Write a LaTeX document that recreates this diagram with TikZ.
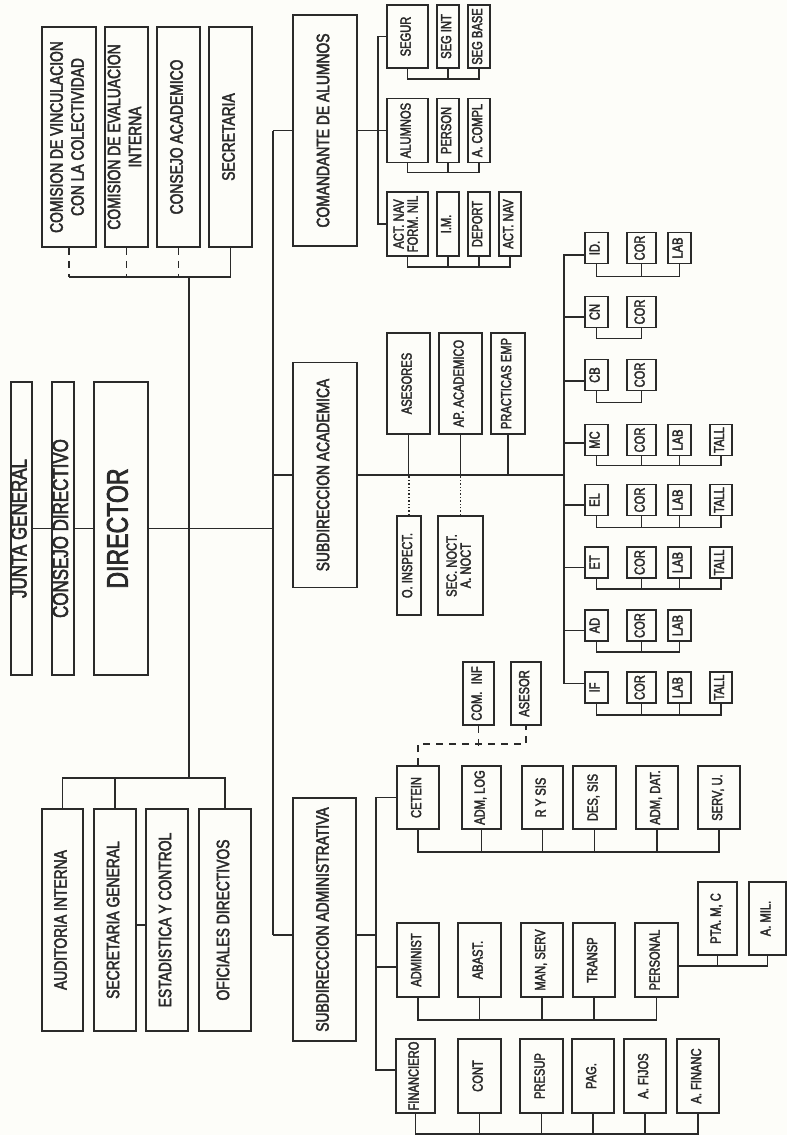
\documentclass[tikz,border=0pt]{standalone}
\usepackage{fontspec,graphicx}
\setmainfont{Liberation Sans}[FakeStretch=0.77,FakeBold=2.5]
\definecolor{ink}{HTML}{2A2A2A}
\definecolor{paper}{HTML}{FDFDF9}
\newcommand{\vt}[1]{\rotatebox{90}{\begin{tabular}{@{}c@{}}#1\end{tabular}}}
\tikzset{org/.style={draw=ink,line width=1.8pt,inner sep=0pt,text=ink,font=\fontsize{14.5}{13}\selectfont},sz/.style 2 args={minimum width=#1pt,minimum height=#2pt},fmid/.style={font=\fontsize{18}{21}\selectfont},fbig/.style={font=\fontsize{22}{18}\selectfont},fhuge/.style={font=\fontsize{30}{34}\selectfont},link/.style={draw=ink,line width=1.8pt},dlink/.style={link,dash pattern=on 7pt off 6pt},plink/.style={draw=ink,line width=1.4pt,dotted}}

\begin{document}
\begin{tikzpicture}[x=1pt,y=-1pt]
\fill[paper] (0,0) rectangle (787,1135);
\node[org,fmid,sz={54}{220}] (cvinc) at (69,137) {\vt{COMISION DE VINCULACION\\CON LA COLECTIVIDAD}};
\node[org,fmid,sz={43}{220}] (ceval) at (126.5,137) {\vt{COMISION DE EVALUACION\\INTERNA}};
\node[org,fmid,sz={43}{220}] (cacad) at (178.5,137) {\vt{CONSEJO ACADEMICO}};
\node[org,fmid,sz={43}{220}] (secr) at (230.5,137) {\vt{SECRETARIA}};
\node[org,fbig,sz={21}{293}] (junta) at (21.5,528.5) {\vt{JUNTA GENERAL}};
\node[org,fbig,sz={22}{293}] (cdir) at (63,528.5) {\vt{CONSEJO DIRECTIVO}};
\node[org,fhuge,sz={54}{293}] (dir) at (121,528.5) {\vt{DIRECTOR}};
\node[org,fmid,sz={41}{222}] (audit) at (62.5,920) {\vt{AUDITORIA INTERNA}};
\node[org,fmid,sz={42}{222}] (sgen) at (115,920) {\vt{SECRETARIA GENERAL}};
\node[org,fmid,sz={42}{222}] (estad) at (167,920) {\vt{ESTADISTICA Y CONTROL}};
\node[org,fmid,sz={52}{222}] (ofic) at (225,920) {\vt{OFICIALES DIRECTIVOS}};
\coordinate (ctop) at (189,277);\coordinate (cbot) at (189,778);
\coordinate (btop) at (273,130.5);\coordinate (bbot) at (273,935);
\draw[dlink](cvinc.south)--(cvinc.south|-ctop);\draw[dlink](ceval.south)--(ceval.south|-ctop);\draw[dlink](cacad.south)--(cacad.south|-ctop);
\draw[link](secr.south)--(secr.south|-ctop)--(cvinc.south|-ctop);
\draw[link](ctop)--(cbot);\draw[link](btop)--(bbot);
\draw[link](junta)--(cdir);\draw[link](cdir)--(dir);\draw[link](dir.east)--(dir.east-|btop);
\draw[link](audit.north)--(audit.north|-cbot)--(ofic.north|-cbot)--(ofic.north);\draw[link](sgen.north)--(sgen.north|-cbot);
\draw[link]([yshift=-5pt]sgen.east)--([yshift=-5pt]estad.west);

\node[org,fmid,sz={64}{231}] (coman) at (325,130.5) {\vt{COMANDANTE DE ALUMNOS}};
\node[org,sz={41}{63}] (segur) at (407.5,36.5) {\vt{SEGUR}};
\node[org,sz={22}{63}] (segint) at (448,36.5) {\vt{SEG INT}};
\node[org,sz={22}{63}] (segbase) at (479,36.5) {\vt{SEG BASE}};
\node[org,sz={41}{64}] (alum) at (407.5,130.5) {\vt{ALUMNOS}};
\node[org,sz={22}{64}] (person) at (448,130.5) {\vt{PERSON}};
\node[org,sz={22}{64}] (acompl) at (479,130.5) {\vt{A. COMPL}};
\node[org,sz={41}{64}] (actnav) at (407.5,224) {\vt{ACT. NAV\\FORM. NIL}};
\node[org,sz={22}{64}] (im) at (448,224) {\vt{I.M.}};
\node[org,sz={22}{64}] (deport) at (479,224) {\vt{DEPORT}};
\node[org,sz={22}{64}] (actnavb) at (510,224) {\vt{ACT. NAV}};
\coordinate (cspine) at (378,130.5);
\draw[link](btop)--(coman.west);\draw[link](coman)--(alum);\draw[link](segur.west)-|(cspine);\draw[link](actnav.west)-|(cspine);
\draw[link](segur.south)--++(0,10)-|(segbase.south);\draw[link](segint.south)--++(0,10);
\draw[link](alum.south)--++(0,9)-|(acompl.south);\draw[link](person.south)--++(0,9);
\draw[link](actnav.south)--++(0,10)-|(actnavb.south);\draw[link](im.south)--++(0,10);\draw[link](deport.south)--++(0,10);

\node[org,fmid,sz={64}{225}] (sacad) at (325,475) {\vt{SUBDIRECCION ACADEMICA}};
\node[org,sz={43}{101}] (ases) at (408.5,383.5) {\vt{ASESORES}};
\node[org,sz={43}{101}] (apac) at (460.5,383.5) {\vt{AP. ACADEMICO}};
\node[org,sz={34}{101}] (pract) at (508,383.5) {\vt{PRACTICAS EMP}};
\node[org,sz={24}{99}] (oinsp) at (409,565.5) {\vt{O. INSPECT.}};
\node[org,sz={45}{99}] (secnoct) at (460.5,565.5) {\vt{SEC. NOCT.\\A. NOCT}};
\coordinate (aspine) at (564,475);
\draw[link](sacad.west-|btop)--(sacad.west);\draw[link](sacad.east)--(aspine);
\draw[link](ases.south)--(ases.south|-aspine);\draw[link](apac.south)--(apac.south|-aspine);\draw[link](pract.south)--(pract.south|-aspine);
\draw[plink](oinsp.north)--(oinsp.north|-aspine);\draw[plink](secnoct.north)--(secnoct.north|-aspine);

\node[org,sz={23}{31}] (id) at (596.5,248) {\vt{ID.}};
\node[org,sz={29}{31}] (idcor) at (641.5,248) {\vt{COR}};
\node[org,sz={23}{31}] (idlab) at (679.5,248) {\vt{LAB}};
\node[org,sz={23}{31}] (cn) at (596.5,312) {\vt{CN}};
\node[org,sz={29}{31}] (cncor) at (641.5,312) {\vt{COR}};
\node[org,sz={23}{31}] (cb) at (596.5,375) {\vt{CB}};
\node[org,sz={29}{31}] (cbcor) at (641.5,375) {\vt{COR}};
\node[org,sz={23}{31}] (mc) at (596.5,440) {\vt{MC}};
\node[org,sz={29}{31}] (mccor) at (641.5,440) {\vt{COR}};
\node[org,sz={23}{31}] (mclab) at (679.5,440) {\vt{LAB}};
\node[org,sz={22}{31}] (mctall) at (721,440) {\vt{TALL}};
\node[org,sz={23}{31}] (el) at (596.5,500) {\vt{EL}};
\node[org,sz={29}{31}] (elcor) at (641.5,500) {\vt{COR}};
\node[org,sz={23}{31}] (ellab) at (679.5,500) {\vt{LAB}};
\node[org,sz={22}{31}] (eltall) at (721,500) {\vt{TALL}};
\node[org,sz={23}{31}] (et) at (596.5,562.5) {\vt{ET}};
\node[org,sz={29}{31}] (etcor) at (641.5,562.5) {\vt{COR}};
\node[org,sz={23}{31}] (etlab) at (679.5,562.5) {\vt{LAB}};
\node[org,sz={22}{31}] (ettall) at (721,562.5) {\vt{TALL}};
\node[org,sz={23}{31}] (ad) at (596.5,625.5) {\vt{AD}};
\node[org,sz={29}{31}] (adcor) at (641.5,625.5) {\vt{COR}};
\node[org,sz={23}{31}] (adlab) at (679.5,625.5) {\vt{LAB}};
\node[org,sz={23}{31}] (ifd) at (596.5,687.5) {\vt{IF}};
\node[org,sz={29}{31}] (ifcor) at (641.5,687.5) {\vt{COR}};
\node[org,sz={23}{31}] (iflab) at (679.5,687.5) {\vt{LAB}};
\node[org,sz={22}{31}] (iftall) at (721,687.5) {\vt{TALL}};
\draw[link]([yshift=-7pt]id.west)-|(aspine);\draw[link]([yshift=4pt]ifd.west)-|(aspine);
\draw[link]([yshift=-5pt]cn.west)--++(-21,0);\draw[link]([yshift=-6pt]cb.west)--++(-21,0);\draw[link]([yshift=-3pt]mc.west)--++(-21,0);
\draw[link]([yshift=-5pt]el.west)--++(-21,0);\draw[link]([yshift=-5pt]et.west)--++(-21,0);\draw[link]([yshift=-5pt]ad.west)--++(-21,0);
\draw[link](id.south)--++(0,12)-|(idlab.south);\draw[link](idcor.south)--++(0,12);
\draw[link](cn.south)--++(0,10)-|(cncor.south);\draw[link](cb.south)--++(0,11)-|(cbcor.south);
\draw[link](mc.south)--++(0,9)-|(mctall.south);\draw[link](mccor.south)--++(0,9);\draw[link](mclab.south)--++(0,9);
\draw[link](el.south)--++(0,11)-|(eltall.south);\draw[link](elcor.south)--++(0,11);\draw[link](ellab.south)--++(0,11);
\draw[link](et.south)--++(0,10)-|(ettall.south);\draw[link](etcor.south)--++(0,10);\draw[link](etlab.south)--++(0,10);
\draw[link](ad.south)--++(0,10)-|(adlab.south);\draw[link](adcor.south)--++(0,10);
\draw[link](ifd.south)--++(0,11)-|(iftall.south);\draw[link](ifcor.south)--++(0,11);\draw[link](iflab.south)--++(0,11);

\node[org,fmid,sz={63}{243}] (sadm) at (324.5,919.5) {\vt{SUBDIRECCION ADMINISTRATIVA}};
\node[org,sz={42}{63}] (cetein) at (418,797.5) {\vt{CETEIN}};
\node[org,sz={39}{63}] (admlog) at (481.5,797.5) {\vt{ADM, LOG}};
\node[org,sz={41}{63}] (rysis) at (542.5,797.5) {\vt{R Y SIS}};
\node[org,sz={43}{63}] (dessis) at (594.5,797.5) {\vt{DES, SIS}};
\node[org,sz={42}{63}] (admdat) at (657,797.5) {\vt{ADM, DAT.}};
\node[org,sz={42}{63}] (servu) at (719,797.5) {\vt{SERV, U.}};
\node[org,sz={31}{63}] (cominf) at (478.5,693.5) {\vt{COM.\enspace INF}};
\node[org,sz={30}{63}] (asesor) at (526,693.5) {\vt{ASESOR}};
\node[org,sz={42}{74}] (administ) at (418,960) {\vt{ADMINIST}};
\node[org,sz={43}{74}] (abast) at (479.5,960) {\vt{ABAST.}};
\node[org,sz={42}{74}] (manserv) at (542,960) {\vt{MAN, SERV}};
\node[org,sz={42}{74}] (transp) at (594,960) {\vt{TRANSP}};
\node[org,sz={43}{74}] (personal) at (656.5,960) {\vt{PERSONAL}};
\node[org,sz={39}{73}] (ptamc) at (717.5,918.5) {\vt{PTA. M, C}};
\node[org,sz={37}{73}] (amil) at (767.5,918.5) {\vt{A. MIL.}};
\node[org,sz={39}{74}] (financ) at (415.5,1076) {\vt{FINANCIERO}};
\node[org,sz={43}{74}] (cont) at (479.5,1076) {\vt{CONT}};
\node[org,sz={43}{74}] (presup) at (541.5,1076) {\vt{PRESUP}};
\node[org,sz={42}{74}] (pag) at (593,1076) {\vt{PAG.}};
\node[org,sz={42}{74}] (afijos) at (645,1076) {\vt{A. FIJOS}};
\node[org,sz={42}{74}] (afinanc) at (698,1076) {\vt{A. FINANC}};
\coordinate (mspine) at (376,935);
\draw[link](bbot)--(bbot-|sadm.west);\draw[link](mspine-|sadm.east)--(mspine);
\draw[link](cetein.west)-|(mspine);\draw[link]([yshift=6pt]financ.west)-|(mspine);\draw[link]([yshift=-7pt]administ.west)--++(-21,0);
\draw[link](cetein.south)--++(0,22)-|(servu.south);\draw[link](admlog.south)--++(0,22);\draw[link](rysis.south)--++(0,22);\draw[link](dessis.south)--++(0,22);\draw[link](admdat.south)--++(0,22);
\draw[dlink](cetein.north)--++(0,-21)-|(asesor.south);\draw[dlink](cominf.south)--++(0,20);
\draw[link](administ.south)--++(0,22)-|(personal.south);\draw[link](abast.south)--++(0,22);\draw[link](manserv.south)--++(0,22);\draw[link](transp.south)--++(0,22);
\draw[link]([yshift=-6pt]personal.east)-|(amil.south);\draw[link](ptamc.south)--++(0,11);
\draw[link](financ.south)--++(0,20)-|(afinanc.south);\draw[link](cont.south)--++(0,20);\draw[link](presup.south)--++(0,20);\draw[link](pag.south)--++(0,20);\draw[link](afijos.south)--++(0,20);
\end{tikzpicture}
\end{document}
